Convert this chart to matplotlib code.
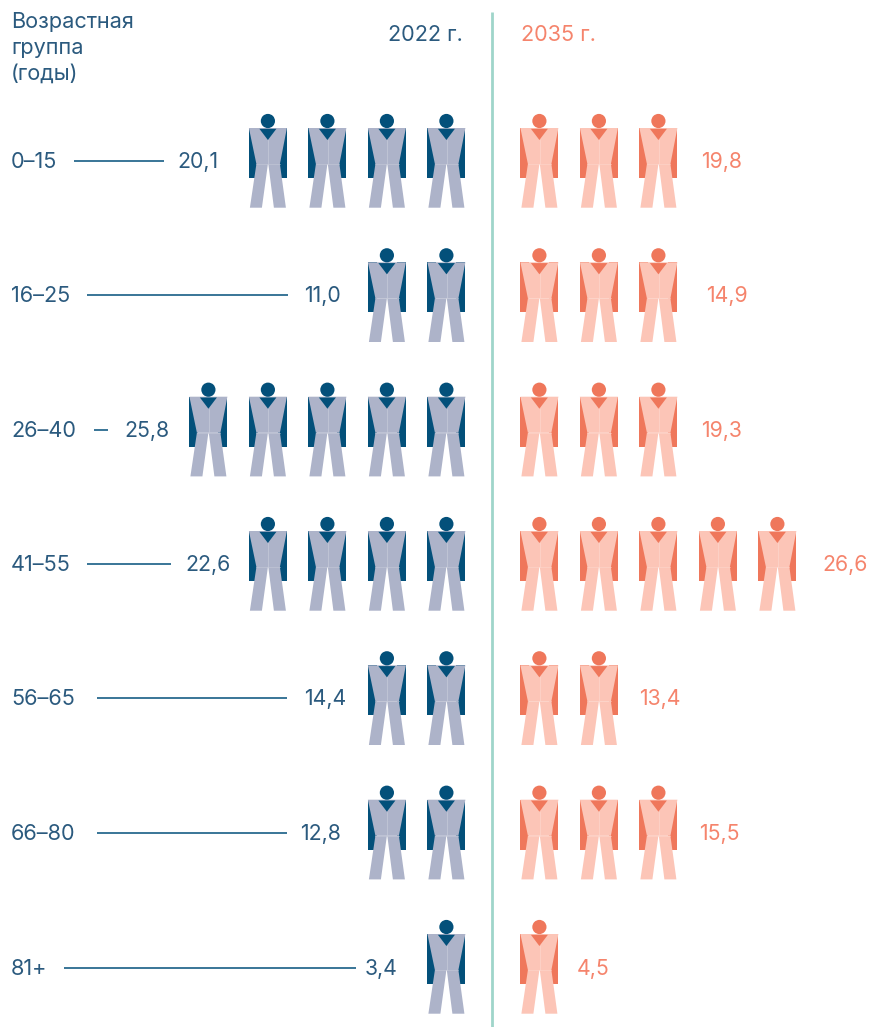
import matplotlib
matplotlib.use("Agg")
import matplotlib.pyplot as plt
from matplotlib.patches import Polygon, Circle

# Data
age_groups = ["0–15", "16–25", "26–40", "41–55", "56–65", "66–80", "81+"]
values_2022 = [20.1, 11.0, 25.8, 22.6, 14.4, 12.8, 3.4]
values_2035 = [19.8, 14.9, 19.3, 26.6, 13.4, 15.5, 4.5]
icons_2022 = [4, 2, 5, 4, 2, 2, 1]
icons_2035 = [3, 3, 3, 5, 2, 3, 1]
header_age = "Возрастная\nгруппа\n(годы)"
header_left = "2022 г."
header_right = "2035 г."

# Layout (pixels)
W, H = 870, 1027
row_top = [128, 262.3, 396.7, 531, 665.3, 799.7, 934]
label_y = [161, 295, 430, 564, 698, 833, 968]
line_start = [74, 87, 94, 87, 97, 97, 64]
line_end = [164, 288, 108, 171, 287, 287, 356]
left_label_x = [197.5, 322, 147, 208.5, 325, 320.5, 381.5]
right_label_x = [721.5, 726.5, 721.5, 845.5, 659.5, 719.5, 593.5]
left_anchor = 427.4
right_anchor = 520.4
step = 59.5

NAVY, NAVY_L, NAVY_T = "#03507a", "#adb3c9", "#2b5a7e"
CORAL, CORAL_L, CORAL_T = "#ef775b", "#fcc5b7", "#f5846c"
DIVIDER = "#9fd5ca"

plt.rcParams["font.family"] = ["Inter", "Roboto", "DejaVu Sans"]
fig = plt.figure(figsize=(W / 100, H / 100), dpi=100)
ax = fig.add_axes([0, 0, 1, 1])
ax.set_xlim(0, W)
ax.set_ylim(H, 0)
ax.axis("off")


def person(x, y, dark, light, seam):
    def P(pts, color, z):
        ax.add_patch(Polygon([(x + a, y + b) for a, b in pts], closed=True,
                             fc=color, ec="none", zorder=z))
    P([(0, 0), (0, 50), (9, 50), (9, 0)], dark, 2)
    P([(38, 0), (38, 50), (29, 50), (29, 0)], dark, 2)
    P([(0, 0), (38, 0), (31, 36), (7.5, 36)], light, 3)
    P([(7.5, 36), (19, 36), (13, 79.7), (1, 79.7)], light, 3)
    P([(19.4, 36), (31, 36), (37, 79.7), (25, 79.7)], light, 3)
    P([(10.5, 0.8), (27.5, 0.8), (19, 12)], dark, 4)
    ax.plot([x + 19.2, x + 19.2], [y + 12, y + 36], color=seam, lw=0.5, zorder=4)
    ax.plot([x + 7.5, x + 31], [y + 36, y + 36], color=seam, lw=0.4, zorder=4)
    ax.add_patch(Circle((x + 19, y - 7), 7.1, fc=dark, ec="none", zorder=5))


fs = 15.3
fs_h = 15.6
for i, age in enumerate(age_groups):
    ax.text(11, label_y[i] + 1, age, color=NAVY_T, fontsize=fs_h, va="center", ha="left")
    ax.plot([line_start[i], line_end[i]], [label_y[i]] * 2, color=NAVY, lw=1.1,
            solid_capstyle="butt")
    ax.text(left_label_x[i], label_y[i] + 1, f"{values_2022[i]:.1f}".replace(".", ","),
            color=NAVY_T, fontsize=fs, va="center", ha="center")
    ax.text(right_label_x[i], label_y[i] + 1, f"{values_2035[i]:.1f}".replace(".", ","),
            color=CORAL_T, fontsize=fs, va="center", ha="center")
    for k in range(icons_2022[i]):
        person(left_anchor - k * step, row_top[i], NAVY, NAVY_L, "#c6cad9")
    for k in range(icons_2035[i]):
        person(right_anchor + k * step, row_top[i], CORAL, CORAL_L, "#fdd6cc")

ax.plot([492.5, 492.5], [12, H], color=DIVIDER, lw=2, solid_capstyle="butt")
ax.text(11, 12.5, header_age, color=NAVY_T, fontsize=fs_h, va="top", ha="left", linespacing=1.36)
ax.text(463, 35, header_left, color=NAVY_T, fontsize=fs_h, va="center", ha="right")
ax.text(521, 35, header_right, color=CORAL_T, fontsize=fs_h, va="center", ha="left")

fig.savefig("out.png", dpi=100, facecolor="white")
